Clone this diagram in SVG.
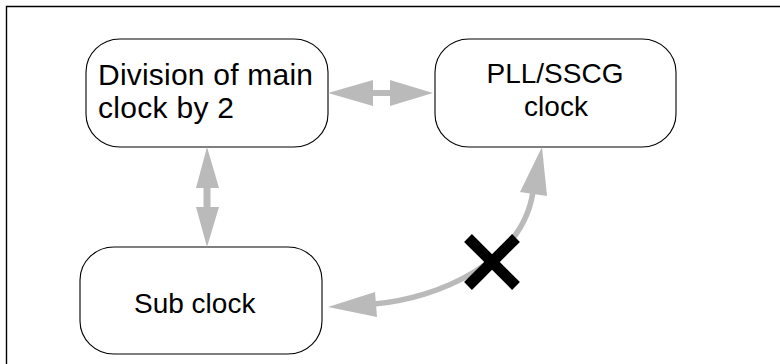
<svg xmlns="http://www.w3.org/2000/svg" width="780" height="364" viewBox="0 0 780 364">
<style>
.frame{fill:none;stroke:#000;stroke-width:1.4}
.node{fill:#fff;stroke:#000;stroke-width:1.1}
.lbl{font-family:"Liberation Sans",Arial,sans-serif;font-size:28px;fill:#000}
.lbl.big{font-size:30px}
.arr{fill:#bababa;stroke:none}
.curve{fill:none;stroke:#bababa;stroke-width:5.5}
.cross{stroke:#000;stroke-width:11;stroke-linecap:butt}
</style>
<rect width="780" height="364" fill="#fff"/>
<path class="frame" d="M6.5,364 V6.5 H780"/>
<g id="node-division">
<rect class="node" x="86" y="39" width="242" height="108" rx="34" ry="33"/>
<text class="lbl big" x="98" y="85" textLength="215" lengthAdjust="spacing">Division of main</text>
<text class="lbl big" x="98" y="118" textLength="136" lengthAdjust="spacing">clock by 2</text>
</g>
<g id="node-pll">
<rect class="node" x="435" y="39" width="241" height="108" rx="34" ry="33"/>
<text class="lbl" x="555" y="83" text-anchor="middle">PLL/SSCG</text>
<text class="lbl" x="556" y="116" text-anchor="middle">clock</text>
</g>
<g id="node-sub">
<rect class="node" x="80" y="247" width="242" height="107" rx="34" ry="33"/>
<text class="lbl" x="134" y="313">Sub clock</text>
</g>
<g id="connectors">
<polygon class="arr" points="328,93 373,80 373,90 390,90 390,80 433,93 390,106 390,96 373,96 373,106"/>
<polygon class="arr" points="207,147 219,188 210.5,188 210.5,207 219,207 207,247 196,207 203.5,207 203.5,188 196,188"/>
<path class="curve" d="M374,304 C440,298 522,262 533,192"/>
<polygon class="arr" points="328,307 375,292 377,317"/>
<polygon class="arr" points="542,147 547,196 520,192"/>
<g id="blocked">
<line class="cross" x1="468" y1="238" x2="516" y2="286"/>
<line class="cross" x1="516" y1="238" x2="468" y2="286"/>
</g>
</g>
</svg>
